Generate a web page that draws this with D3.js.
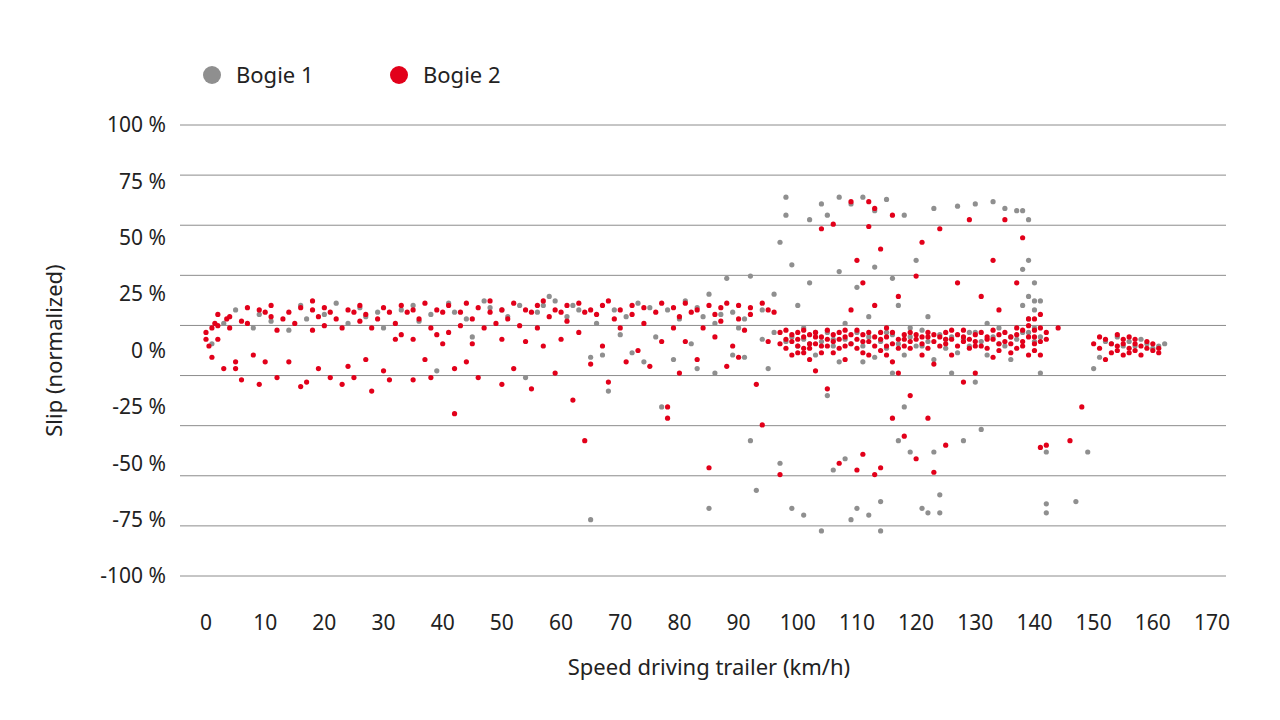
<!DOCTYPE html>
<html>
<head>
<meta charset="utf-8">
<style>
  body { margin: 0; background: #fff; }
  text { font-family: "Noto Sans", "Open Sans", sans-serif; fill: #222; }
</style>
<script src="https://cdn.jsdelivr.net/npm/d3@7"></script>
</head>
<body>
<div id="chart"></div>
<script>
// [speed km/h, slip %]
const bogie1 = [[1,3],[3,12],[8,10],[11,13],[14,9],[17,14],[20,16],[24,12],[27,15],[30,10],[33,18],[36,13],[39,-9],[42,17],[45,6],[48,19],[51,15],[54,-12],[57,20],[59,22],[61,15],[63,18],[65,-3],[65,-75],[67,-2],[68,-18],[70,7],[72,-1],[74,-5],[75,19],[76,6],[77,-25],[79,-4],[80,14],[81,22],[82,3],[83,-8],[84,15],[85,25],[85,-70],[86,-10],[87,16],[88,32],[89,-2],[90,10],[91,-3],[92,33],[92,-40],[93,-62],[94,5],[95,-8],[96,25],[97,48],[97,-50],[98,68],[98,60],[99,38],[99,-70],[100,20],[101,-73],[101,10],[102,30],[102,58],[103,8],[104,-80],[104,65],[105,-20],[105,60],[106,5],[106,-53],[107,35],[107,68],[108,-48],[108,12],[109,-75],[109,65],[110,-70],[110,28],[111,-5],[111,68],[112,15],[112,-73],[113,37],[113,62],[114,-80],[114,-67],[115,8],[115,67],[116,-10],[116,32],[117,-40],[117,20],[118,60],[118,-25],[119,10],[119,-45],[120,40],[121,-70],[121,2],[122,-72],[122,15],[123,-45],[123,63],[124,-72],[124,-64],[125,5],[126,-10],[127,64],[128,-40],[129,8],[130,65],[130,-14],[131,-35],[132,12],[133,66],[134,3],[135,63],[136,6],[137,62],[138,20],[138,62],[139,40],[139,8],[140,22],[140,10],[141,-10],[142,-45],[142,-68],[142,-72],[147,-67],[149,-45],[150,-8],[151,-3],[152,4],[153,3],[154,6],[155,2],[156,4],[157,2],[158,5],[159,3],[160,1],[161,2],[162,3],
  [5,18],[9,16],[16,20],[22,21],[26,19],[29,17],[35,20],[38,16],[41,21],[44,14],[47,22],[50,18],[53,20],[56,17],[58,24],[62,20],[66,12],[69,18],[71,15],[73,21],[78,18],[83,19],[86,12],[89,17],[91,14],[94,18],[96,8],[98,4],[99,6],[100,2],[101,5],[102,3],[103,-2],[104,4],[105,8],[106,2],[107,-5],[108,5],[109,3],[110,8],[111,2],[112,6],[113,-3],[114,4],[115,1],[116,7],[117,3],[118,-2],[119,6],[120,2],[121,9],[122,4],[123,-4],[124,7],[125,1],[126,6],[127,-1],[128,5],[129,2],[130,8],[131,4],[132,-2],[133,6],[134,10],[135,2],[136,-4],[137,5],[138,8],[139,14],[140,18],[140,4],[141,6],[141,22],[139,24],[140,30],[139,58],[138,36]];

const bogie2 = [[0,5],[0,8],[0.5,2],[1,10],[1,-3],[1.5,12],[2,11],[2,5],[3,-8],[3.5,14],[4,10],[5,-8],[5,-5],[6,13],[6,-13],[7,12],[8,-2],[9,-15],[10,17],[10,-5],[11,15],[12,-12],[12,9],[13,14],[14,-5],[15,12],[16,-16],[17,-14],[18,18],[18,9],[19,15],[19,-8],[20,11],[21,-12],[22,14],[23,10],[23,-15],[24,-7],[25,17],[25,-12],[26,13],[27,-4],[28,-18],[28,10],[29,14],[30,-9],[31,-13],[32,5],[32,12],[33,7],[34,17],[35,-13],[35,5],[36,14],[37,-4],[38,10],[38,-12],[39,7],[40,3],[40,17],[41,8],[42,-8],[42,-28],[43,11],[44,-5],[45,14],[45,3],[46,-12],[47,10],[48,17],[49,12],[50,-15],[50,5],[51,14],[52,-8],[53,11],[54,4],[55,17],[55,-17],[56,10],[57,2],[58,15],[59,-10],[60,5],[60,17],[61,13],[62,-22],[63,8],[64,17],[64,-40],[65,-6],[66,16],[67,2],[68,-14],[69,14],[70,10],[71,-5],[72,16],[73,0],[74,12],[75,-7],[76,17],[77,4],[78,-25],[78,-30],[79,10],[80,-10],[80,15],[81,4],[82,17],[83,-4],[84,10],[85,-52],[86,16],[86,6],[87,13],[88,-7],[89,2],[90,14],[90,-3],[91,9],[92,16],[93,-15],[94,-33],[95,4],[96,17],[97,-55],[97,3],[98,1],[99,4],[99,-2],[100,2],[100,5],[101,-1],[101,1],[102,3],[102,-4],[103,-9],[103,6],[104,-1],[104,54],[105,2],[105,-17],[106,-1],[106,56],[107,5],[107,-50],[108,-4],[108,2],[109,18],[109,66],[110,40],[110,1],[110,-53],[111,-46],[111,30],[111,4],[112,66],[112,55],[112,-2],[113,-55],[113,20],[113,63],[114,0],[114,-52],[114,45],[115,2],[115,10],[116,-30],[116,-5],[116,60],[117,-10],[117,24],[118,2],[118,-38],[119,4],[119,-20],[120,-48],[120,33],[121,-2],[121,48],[122,-30],[122,6],[123,-54],[123,-6],[124,54],[125,5],[125,-42],[126,-2],[127,30],[128,-14],[128,4],[129,58],[130,2],[130,-10],[131,24],[132,5],[133,-3],[133,40],[134,18],[134,3],[135,58],[136,-1],[137,10],[137,30],[138,4],[138,50],[139,14],[139,-2],[140,6],[140,0],[140,14],[141,-2],[141,10],[141,-43],[142,-42],[144,10],[146,-40],[148,-25],[150,3],[151,1],[152,-4],[153,-1],[153,3],[154,2],[154,0],[155,-2],[155,5],[156,1],[156,-1],[157,3],[157,0],[158,2],[158,-2],[159,1],[160,0],[161,-1],[161,1],
  [2,16],[4,15],[7,19],[9,18],[11,20],[14,17],[16,19],[18,22],[20,19],[21,17],[24,18],[26,20],[27,16],[30,19],[31,17],[33,20],[35,18],[37,21],[39,18],[41,20],[43,17],[44,21],[46,19],[48,22],[50,18],[52,21],[54,18],[56,20],[57,22],[59,18],[61,20],[63,21],[65,18],[67,20],[68,22],[70,18],[72,20],[74,19],[77,21],[79,19],[81,21],[83,18],[85,20],[87,19],[88,21],[90,20],[92,19],[94,21],[95,18],[97,8],[98,5],[98,9],[99,7],[100,8],[100,-1],[101,6],[101,9],[102,7],[102,1],[103,3],[103,8],[104,6],[104,2],[105,5],[105,9],[106,4],[106,7],[107,1],[107,8],[108,6],[108,9],[109,3],[109,7],[110,5],[110,9],[111,7],[111,-1],[112,4],[112,8],[113,6],[113,2],[114,8],[114,5],[115,6],[115,-2],[116,3],[116,8],[117,5],[117,1],[118,7],[118,5],[119,1],[119,8],[120,5],[120,7],[121,3],[121,6],[122,1],[122,8],[123,4],[123,7],[124,2],[124,6],[125,8],[125,3],[126,5],[126,9],[127,2],[127,7],[128,6],[128,9],[129,1],[129,5],[130,7],[130,4],[131,2],[131,8],[132,6],[132,1],[133,5],[133,9],[134,7],[134,0],[135,4],[135,8],[136,6],[136,3],[137,1],[137,7],[138,9],[138,2],[139,6],[139,11],[140,3],[140,9],[141,4],[141,16],[142,5],[142,8],[151,6],[152,5],[154,7],[155,3],[156,6],[157,5],[159,4],[160,3]];

const xTicks = d3.range(0, 171, 10);
const yTicks = [100, 75, 50, 25, 0, -25, -50, -75, -100];
const gridCount = 10;

const series = [
  {name: "Bogie 1", color: "#8f8f8f", data: bogie1},
  {name: "Bogie 2", color: "#e2001a", data: bogie2}
];

const svg = d3.select("#chart").append("svg")
  .attr("width", 1280).attr("height", 720);

const x = d3.scaleLinear().domain([0, 170]).range([206, 1212]);
const y = d3.scaleLinear().domain([-100, 100]).range([576, 125]);
const grid = d3.scaleLinear().domain([0, gridCount - 1]).range([125, 576]);

svg.append("g").selectAll("line")
  .data(d3.range(gridCount))
  .join("line")
  .attr("x1", 180).attr("x2", 1226)
  .attr("y1", d => grid(d)).attr("y2", d => grid(d))
  .attr("stroke", "#8c8c8c").attr("stroke-width", 1);

svg.append("g").selectAll("text")
  .data(yTicks)
  .join("text")
  .attr("x", 166).attr("y", d => y(d))
  .attr("dy", "0.35em").attr("text-anchor", "end")
  .attr("font-size", 21)
  .text(d => d + " %");

svg.append("g").selectAll("text")
  .data(xTicks)
  .join("text")
  .attr("x", d => x(d)).attr("y", 630)
  .attr("text-anchor", "middle")
  .attr("font-size", 21)
  .text(d => d);

svg.append("text")
  .attr("x", x(85)).attr("y", 675)
  .attr("text-anchor", "middle").attr("font-size", 22)
  .text("Speed driving trailer (km/h)");

svg.append("text")
  .attr("transform", `translate(62,${y(0)}) rotate(-90)`)
  .attr("text-anchor", "middle").attr("font-size", 22)
  .text("Slip (normalized)");

series.forEach(s => {
  svg.append("g").selectAll("circle")
    .data(s.data)
    .join("circle")
    .attr("cx", d => x(d[0])).attr("cy", d => y(d[1]))
    .attr("r", 2.6).attr("fill", s.color);
});

const legend = svg.append("g").selectAll("g")
  .data(series)
  .join("g")
  .attr("transform", (d, i) => `translate(${212 + i * 187},75)`);
legend.append("circle").attr("r", 9).attr("fill", d => d.color);
legend.append("text").attr("x", 24).attr("dy", "0.35em")
  .attr("font-size", 22).text(d => d.name);
</script>
</body>
</html>
